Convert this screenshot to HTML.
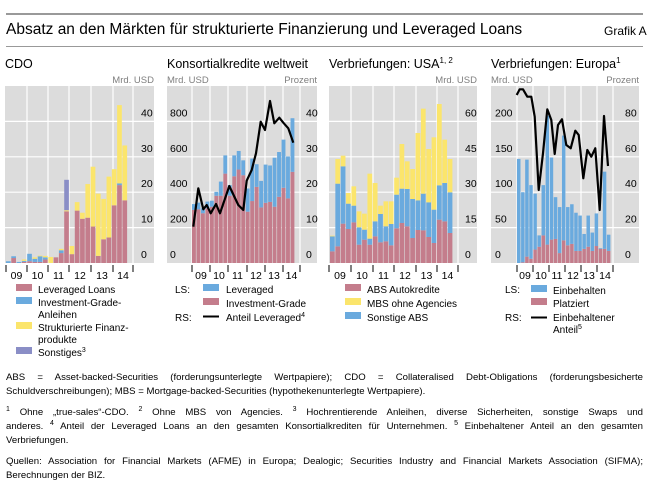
<!DOCTYPE html>
<html><head><meta charset="utf-8">
<style>
body{margin:0;background:#fff;width:649px;height:497px;overflow:hidden;font-family:"Liberation Sans",sans-serif;color:#000;position:relative}
.a{position:absolute;white-space:nowrap}
.fn{position:absolute;left:6px;width:637px;font-size:9.6px;line-height:12px}
.j{text-align:justify;text-align-last:justify}
sup{font-size:7px;vertical-align:4px;line-height:0}
</style></head><body>
<div style="position:absolute;left:6px;top:13px;width:637px;height:2px;background:#999"></div>
<div class="a" style="left:6px;top:21px;font-size:15.5px">Absatz an den Märkten für strukturierte Finanzierung und Leveraged Loans</div>
<div class="a" style="left:604px;top:24px;font-size:12px">Grafik A</div>
<div style="position:absolute;left:6px;top:46px;width:637px;height:1px;background:#999"></div>
<svg id="s" width="649" height="497" style="position:absolute;left:0;top:0" xmlns="http://www.w3.org/2000/svg"></svg>

<div class="fn j" style="top:372px">ABS = Asset-backed-Securities (forderungsunterlegte Wertpapiere); CDO = Collateralised Debt-Obligations (forderungsbesicherte</div>
<div class="fn" style="top:386px">Schuldverschreibungen); MBS = Mortgage-backed-Securities (hypothekenunterlegte Wertpapiere).</div>
<div class="fn j" style="top:407px"><sup>1</sup> Ohne „true-sales“-CDO. <sup>2</sup> Ohne MBS von Agencies. <sup>3</sup> Hochrentierende Anleihen, diverse Sicherheiten, sonstige Swaps und</div>
<div class="fn j" style="top:421px">anderes. <sup>4</sup> Anteil der Leveraged Loans an den gesamten Konsortialkrediten für Unternehmen. <sup>5</sup> Einbehaltener Anteil an den gesamten</div>
<div class="fn" style="top:435px">Verbriefungen.</div>
<div class="fn j" style="top:456px">Quellen: Association for Financial Markets (AFME) in Europa; Dealogic; Securities Industry and Financial Markets Association (SIFMA);</div>
<div class="fn" style="top:470px">Berechnungen der BIZ.</div>

<script>
var P='#c47d8c',B='#6aaade',Y='#fbe56c',V='#8a8ec6';
var o='';
function R(x,y,w,h,c){o+='<rect x="'+x+'" y="'+y+'" width="'+w+'" height="'+h+'" fill="'+c+'"/>';}
function T(x,y,t,s,c,a){o+='<text x="'+x+'" y="'+y+'" font-size="'+s+'" fill="'+(c||'#000')+'" text-anchor="'+(a||'start')+'" font-family="Liberation Sans, sans-serif">'+t+'</text>';}
var BASE=263, K=35.4;
function panel(x0,x1,vl,title,lu,ru){
  R(x0,86,x1-x0,BASE-86,'#dcdcdc');
  for(var i=1;i<=4;i++){o+='<line x1="'+x0+'" x2="'+x1+'" y1="'+(BASE-i*K)+'" y2="'+(BASE-i*K)+'" stroke="#fff" stroke-width="1.2"/>';}
  vl.forEach(function(v){if(v>x0+1&&v<x1-1)o+='<line x1="'+v+'" x2="'+v+'" y1="86" y2="'+BASE+'" stroke="#fff" stroke-width="1.2"/>';});
  T(x0,68,title,12.5);
  if(lu)T(x0,83,lu,9.5,'#7f7f7f');
  if(ru)T(x1,83,ru,9.5,'#7f7f7f','end');
  // ticks & year labels
  vl.forEach(function(v){o+='<line x1="'+v+'" x2="'+v+'" y1="'+(BASE+2)+'" y2="'+(BASE+9)+'" stroke="#000" stroke-width="1"/>';});
  var yrs=['09','10','11','12','13','14'];
  for(var i=0;i<6;i++)T((vl[i]+vl[i+1])/2,279,yrs[i],10.5,'#000','middle');
}
function stack(x0,w,data,scale,cols){
  data.forEach(function(d,i){var y=BASE;var x=x0+i*w;
    for(var k=0;k<d.length;k++){var h=d[k]*scale; if(h>0){R(x.toFixed(2),(y-h).toFixed(2),(w-0.6).toFixed(2),h.toFixed(2),cols[k]);} y-=h;}
  });
}
function ylabels(x,vals,anchor){vals.forEach(function(v,i){T(x,BASE-i*K-5,v,10.5,'#000',anchor);});}
function line(pts){o+='<polyline fill="none" stroke="#000" stroke-width="2.2" stroke-linejoin="round" points="'+pts.map(function(p){return p[0].toFixed(1)+','+p[1].toFixed(1)}).join(' ')+'"/>';}

// Panel 1 CDO
var v1=[6,27,48,69,91,113,133];
panel(5,154,v1,'CDO','','Mrd. USD');
var cdo=[[0,0.5,0,0],[1.4,0.5,0,0],[0,0.3,0,0],[0.3,0.3,0.4,0],[0.5,2.1,0,0],[0.3,0.9,0.4,0],[0.3,1.6,0.2,0],[1,0.6,0.4,0],[0,0,1.7,0],[1.6,0,0,0],[2.8,0.8,0.4,0],[14.6,0,0.3,8.6],[2.5,0,2.3,0],[14.8,0,2.4,0],[12.5,0,1.7,0],[12.8,0,9.5,0],[10.3,0,16.9,0],[2,0,17.6,0],[6.7,0,11.4,0],[7.2,0,17.2,0],[16.3,0,10.2,0],[22,0.5,22.1,0],[17.7,0,15.5,0]];
stack(6,(133-6)/24,cdo,K/10,[P,B,Y,V]);
ylabels(141,['0','10','20','30','40'],'start');

// Panel 2 Konsortialkredite
var v2=[192,210,228,247,265,283,300];
panel(167,317,v2,'Konsortialkredite weltweit','Mrd. USD','Prozent');
var kp=[[300,33],[303,38],[281,28],[309,38],[318,34],[380,22],[380,80],[505,103],[380,60],[490,118],[528,105],[496,84],[290,131],[350,240],[430,128],[314,150],[340,216],[345,206],[318,277],[374,253],[425,272],[365,237],[515,303],[505,245]];
var d2=kp.slice(0,23).map(function(a){return [a[0],a[1]]});
stack(192,(295-192)/23,d2,K/200,[P,B]);
ylabels(170,['0','200','400','600','800'],'start');
ylabels(306,['0','10','20','30','40'],'start');
var l2=[[580,530],[595,415],[610,478],[620,465],[632,490],[648,462],[660,490],[688,408],[715,465],[730,480],[740,392],[755,360],[768,310],[782,215],[795,240],[810,153],[823,220],[838,203],[850,218],[865,235],[880,278]];
line(l2.map(function(p){return [p[0]/3,50+p[1]/3]}));

// Panel 3 USA
var v3=[329,351,373,394,416,437,458];
panel(329,477,v3,'Verbriefungen: USA<tspan font-size="8" dy="-5">1, 2</tspan>','','Mrd. USD');
var us=[[605,560,558],[590,402,328],[522,350,318],[538,462,430],[518,468,410],[585,533,485],[570,540,492],[585,567,372],[560,515,400],[578,493,468],[575,530,455],[587,523,455],[536,435,384],[520,417,283],[530,418,335],[565,448,358],[541,452,250],[542,432,177],[562,458,298],[580,480,263],[510,407,163],[515,400,270],[550,428,328]];
var d3=us.map(function(a){return [(640-a[0])/3,(a[0]-a[1])/3,(a[1]-a[2])/3]});
stack(330,(453-330)/23,d3,1,[P,B,Y]);
ylabels(465,['0','15','30','45','60'],'start');

// Panel 4 Europa
var v4=[517,533,549,565,581,597,613];
panel(491,639,v4,'Verbriefungen: Europa<tspan font-size="8" dy="-5">1</tspan>','Mrd. USD','Prozent');
var eu=[[0,147],[1,100],[9,146],[6,110],[19,98],[23,39],[39,110],[26,208],[33,149],[34,93],[14,79],[32,180],[25,79],[27,83],[17,71],[17,67],[20,41],[23,67],[17,43],[24,70],[20,21],[20,129],[17,40]];
var d4=eu.map(function(a){return [a[0],a[1]-a[0]]});
stack(517,(611-517)/23,d4,K/50,[P,B]);
ylabels(495,['0','50','100','150','200'],'start');
ylabels(625,['0','20','40','60','80'],'start');
var l4=[[86,45],[95,28],[105,28],[118,50],[130,50],[140,110],[152,330],[165,220],[178,88],[190,120],[200,222],[210,135],[222,118],[235,195],[248,205],[262,152],[272,165],[286,295],[298,210],[310,230],[322,205],[335,390],[348,108],[360,258]];
line(l4.map(function(p){return [488+p[0]/3,80+p[1]/3]}));

// Legends
function sw(x,y,c){R(x,y-5,16,7,c);}
function ln(x,y){o+='<line x1="'+x+'" x2="'+(x+16)+'" y1="'+(y-1.5)+'" y2="'+(y-1.5)+'" stroke="#000" stroke-width="2"/>';}
var fs=10;
sw(16,289,P);T(38,293,'Leveraged Loans',fs);
sw(16,302,B);T(38,306,'Investment-Grade-',fs);T(38,318,'Anleihen',fs);
sw(16,327,Y);T(38,331,'Strukturierte Finanz-',fs);T(38,343,'produkte',fs);
sw(16,352,V);T(38,356,'Sonstiges<tspan font-size="7" dy="-4">3</tspan>',fs);

T(175,293,'LS:',fs);sw(203,289,B);T(226,293,'Leveraged',fs);
sw(203,303,P);T(226,307,'Investment-Grade',fs);
T(175,321,'RS:',fs);ln(203,318);T(226,321,'Anteil Leveraged<tspan font-size="7" dy="-4">4</tspan>',fs);

sw(345,289,P);T(367,293,'ABS Autokredite',fs);
sw(345,303,Y);T(367,307,'MBS ohne Agencies',fs);
sw(345,317,B);T(367,321,'Sonstige ABS',fs);

T(505,293,'LS:',fs);sw(531,290,B);T(553,294,'Einbehalten',fs);
sw(531,303,P);T(553,307,'Platziert',fs);
T(505,321,'RS:',fs);ln(531,319);T(553,321,'Einbehaltener',fs);T(553,333,'Anteil<tspan font-size="7" dy="-4">5</tspan>',fs);

document.getElementById('s').innerHTML=o;
</script>
</body></html>
